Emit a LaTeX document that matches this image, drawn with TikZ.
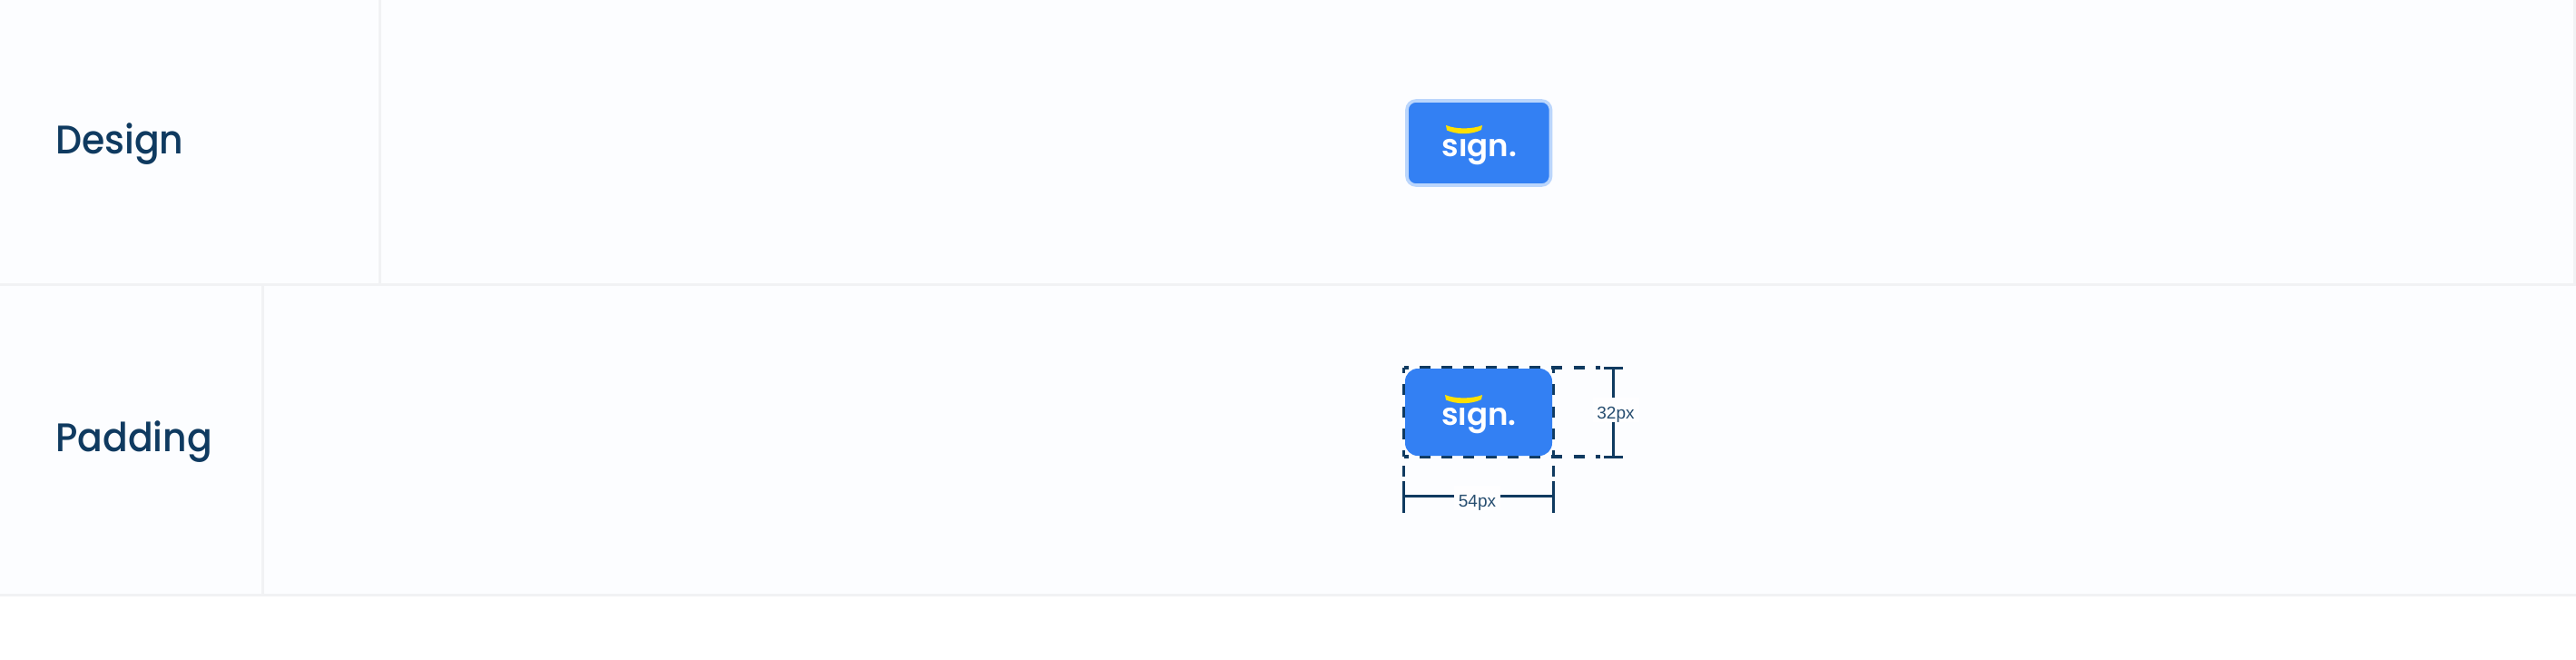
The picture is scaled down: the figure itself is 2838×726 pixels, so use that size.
\documentclass[tikz,border=0pt]{standalone}
\usepackage{fontspec}
\newfontfamily\rowfont[FakeStretch=0.93]{Poppins Medium}
\newfontfamily\labelfont{Liberation Sans}
\newfontfamily\logofont{Poppins SemiBold}
\definecolor{pagebg}{HTML}{FCFDFF}
\definecolor{rule}{HTML}{F1F2F4}
\definecolor{ink}{HTML}{0F3A60}
\definecolor{brand}{HTML}{3380F3}
\definecolor{halo}{HTML}{BBD6FC}
\definecolor{sun}{HTML}{FFE000}
\tikzset{
  x=1pt,y=-1pt,
  gridrule/.style={draw=rule,line width=3pt},
  rowlabel/.style={font=\rowfont\fontsize{44}{44}\selectfont,text=ink,anchor=base west,inner sep=0pt},
  logotext/.style={font=\logofont\fontsize{34}{34}\selectfont,text=white,anchor=base,inner sep=0pt},
  dim/.style={draw=ink,line width=3pt},
  dashline/.style={draw=ink,line width=3.2pt,dash pattern=on 12pt off 12.25pt},
  dimlabel/.style={font=\labelfont\fontsize{19}{19}\selectfont,text=ink!90,fill=white!60!pagebg,inner sep=0pt,anchor=base,
    text height=23pt,text depth=4pt,minimum width=51pt,align=center},
}
\begin{document}
\begin{tikzpicture}
\useasboundingbox (0,0) rectangle (2838,726);
\fill[white] (0,0) rectangle (2838,726);
\fill[pagebg] (0,0) rectangle (2838,655);
% grid
\draw[gridrule] (0,313.5) -- (2838,313.5);
\draw[gridrule] (0,655.5) -- (2838,655.5);
\draw[gridrule] (418.7,0) -- (418.7,312);
\draw[gridrule] (289.5,314) -- (289.5,654);
\draw[gridrule] (2836.5,0) -- (2836.5,312);
\node[rowlabel] (design) at (61,169) {Design};
\node[rowlabel] (padding) at (61,497.5) {Padding};
% top button
\draw[fill=brand,draw=halo,line width=3.6pt,rounded corners=10pt] (1550,111) rectangle (1708.5,204);
\begin{scope}
\clip (1580,152.5) rectangle (1680,190);
\node[logotext] (sign1) at (1630,172) {sign.};
\end{scope}
\fill[sun] (1593,138) .. controls (1604,142.5) and (1622,142.5) .. (1633,138) -- (1632,143) .. controls (1621,148.5) and (1605,148.5) .. (1594,143.5) -- cycle;
% dashed outline
\draw[dashline,dash phase=7pt] (1546.5,405) -- (1763,405);
\draw[dashline,dash phase=7pt] (1546.5,503) -- (1763,503);
\draw[dashline,dash phase=6pt] (1546.5,405) -- (1546.5,503);
\draw[dashline,dash phase=6pt] (1711.5,405) -- (1711.5,503);
\draw[dashline] (1546.5,513) -- (1546.5,525);
\draw[dashline] (1711.5,513) -- (1711.5,525);
% padded button
\fill[brand,rounded corners=14pt] (1548,406) rectangle (1710,502);
\begin{scope}
\clip (1580,449.5) rectangle (1680,487);
\node[logotext] (sign2) at (1629.5,468) {sign.};
\end{scope}
\fill[sun] (1592,435) .. controls (1603,439.5) and (1622,439.5) .. (1633,435) -- (1632,440) .. controls (1621,445.5) and (1604,445.5) .. (1593,440.5) -- cycle;
% dimensions
\draw[dim] (1767,405) -- (1788,405);
\draw[dim] (1767,503) -- (1788,503);
\draw[dim] (1777.5,405) -- (1777.5,503);
\draw[dim] (1546.5,530) -- (1546.5,565);
\draw[dim] (1711.5,530) -- (1711.5,565);
\draw[dim] (1546.5,546) -- (1711.5,546);
\node[dimlabel] (h) at (1780,461) {32px};
\node[dimlabel] (w) at (1627.5,558) {54px};
\end{tikzpicture}
\end{document}
